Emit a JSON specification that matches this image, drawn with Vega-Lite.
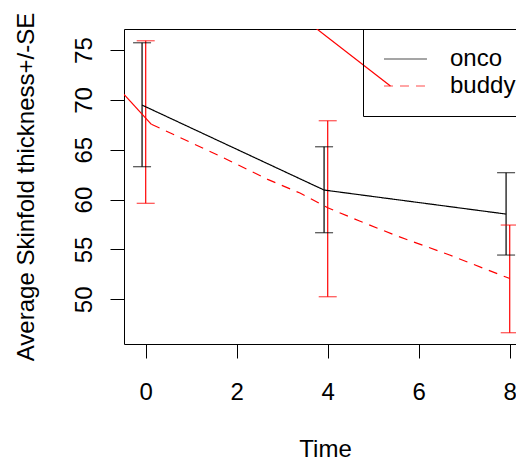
{
  "$schema": "https://vega.github.io/schema/vega-lite/v6.json",
  "width": 392,
  "height": 315,
  "autosize": {"type": "none"},
  "padding": {"left": 124, "top": 29, "right": 0, "bottom": 117},
  "background": "white",
  "config": {
    "font": "Liberation Sans",
    "view": {"stroke": "black", "strokeWidth": 1},
    "axis": {"grid": false, "domain": false, "tickColor": "black", "tickSize": 14, "tickWidth": 1, "labelColor": "black", "labelFontSize": 24, "titleColor": "black", "titleFontSize": 24, "titleFontWeight": "normal", "labelFlush": false, "labelOverlap": false, "labelBound": false},
    "axisX": {"labelPadding": 41, "labelBaseline": "alphabetic", "titleX": 201, "titleY": 112, "titleBaseline": "alphabetic", "titleAlign": "center"},
    "axisY": {"labelAngle": 270, "labelAlign": "center", "labelBaseline": "alphabetic", "labelPadding": 19, "titleAngle": 270, "titleX": -91, "titleY": 157.5, "titleAlign": "center", "titleBaseline": "alphabetic"},
    "legend": {"orient": "none", "legendX": 239, "legendY": 0, "strokeColor": "black", "padding": 18, "labelFontSize": 24, "labelColor": "black", "symbolType": "M-0.84,0H3.16", "symbolSize": 462, "symbolStrokeWidth": 1.2, "labelOffset": 45, "rowPadding": 3}
  },
  "datasets": {
    "means": [
      {"series": "onco", "time": -0.08, "value": 69.48},
      {"series": "onco", "time": 3.92, "value": 60.96},
      {"series": "onco", "time": 7.92, "value": 58.55},
      {"series": "buddy", "time": 0.125, "value": 67.55},
      {"series": "buddy", "time": 0.59, "value": 66.58},
      {"series": "buddy", "time": 1.63, "value": 64.37},
      {"series": "buddy", "time": 2.68, "value": 62.03},
      {"series": "buddy", "time": 3.39, "value": 60.66},
      {"series": "buddy", "time": 4.0, "value": 59.19},
      {"series": "buddy", "time": 4.7, "value": 57.85},
      {"series": "buddy", "time": 5.51, "value": 56.38},
      {"series": "buddy", "time": 6.68, "value": 54.44},
      {"series": "buddy", "time": 7.93, "value": 52.21},
      {"series": "buddy", "time": 8.0, "value": 52.09}
    ],
    "bars": [
      {"series": "onco", "time": -0.08, "lo": 63.30, "hi": 75.73},
      {"series": "onco", "time": 3.92, "lo": 56.68, "hi": 65.30},
      {"series": "onco", "time": 7.92, "lo": 54.44, "hi": 62.70},
      {"series": "buddy", "time": 0, "lo": 59.63, "hi": 75.93},
      {"series": "buddy", "time": 4, "lo": 50.26, "hi": 67.91},
      {"series": "buddy", "time": 8, "lo": 46.65, "hi": 57.45}
    ],
    "segs": [
      {"seg": "a", "time": -0.5, "value": 70.66},
      {"seg": "a", "time": 0.125, "value": 67.55},
      {"seg": "b", "time": 3.714, "value": 77.28},
      {"seg": "b", "time": 5.378, "value": 71.39}
    ]
  },
  "layer": [
    {
      "data": {"name": "bars"},
      "mark": {"type": "rule", "strokeWidth": 1.2},
      "encoding": {
        "x": {"field": "time", "type": "quantitative", "title": "Time", "scale": {"domain": [-0.477, 8.138], "nice": false, "zero": false}, "axis": {"values": [0, 2, 4, 6, 8]}},
        "y": {"field": "lo", "type": "quantitative", "title": "Average Skinfold thickness+/-SE", "scale": {"domain": [45.52, 77.11], "nice": false, "zero": false}, "axis": {"values": [50, 55, 60, 65, 70, 75]}},
        "y2": {"field": "hi"},
        "color": {"field": "series", "type": "nominal", "title": null, "scale": {"domain": ["onco", "buddy"], "range": ["black", "red"]}}
      }
    },
    {
      "data": {"name": "bars"},
      "mark": {"type": "tick", "orient": "horizontal", "size": 18, "thickness": 1.2},
      "encoding": {
        "x": {"field": "time", "type": "quantitative", "title": "Time"},
        "y": {"field": "lo", "type": "quantitative", "title": "Average Skinfold thickness+/-SE"},
        "color": {"field": "series", "type": "nominal", "title": null}
      }
    },
    {
      "data": {"name": "bars"},
      "mark": {"type": "tick", "orient": "horizontal", "size": 18, "thickness": 1.2},
      "encoding": {
        "x": {"field": "time", "type": "quantitative", "title": "Time"},
        "y": {"field": "hi", "type": "quantitative", "title": "Average Skinfold thickness+/-SE"},
        "color": {"field": "series", "type": "nominal", "title": null}
      }
    },
    {
      "data": {"name": "means"},
      "mark": {"type": "line", "strokeWidth": 1.2, "clip": true},
      "encoding": {
        "x": {"field": "time", "type": "quantitative", "title": "Time"},
        "y": {"field": "value", "type": "quantitative", "title": "Average Skinfold thickness+/-SE"},
        "color": {"field": "series", "type": "nominal", "title": null},
        "strokeDash": {"field": "series", "type": "nominal", "title": null, "scale": {"domain": ["onco", "buddy"], "range": [[1, 0], [9, 7]]}}
      }
    },
    {
      "data": {"name": "segs"},
      "mark": {"type": "line", "strokeWidth": 1.2, "color": "red", "clip": true},
      "encoding": {
        "x": {"field": "time", "type": "quantitative", "title": "Time"},
        "y": {"field": "value", "type": "quantitative", "title": "Average Skinfold thickness+/-SE"},
        "detail": {"field": "seg", "type": "nominal"}
      }
    }
  ]
}
